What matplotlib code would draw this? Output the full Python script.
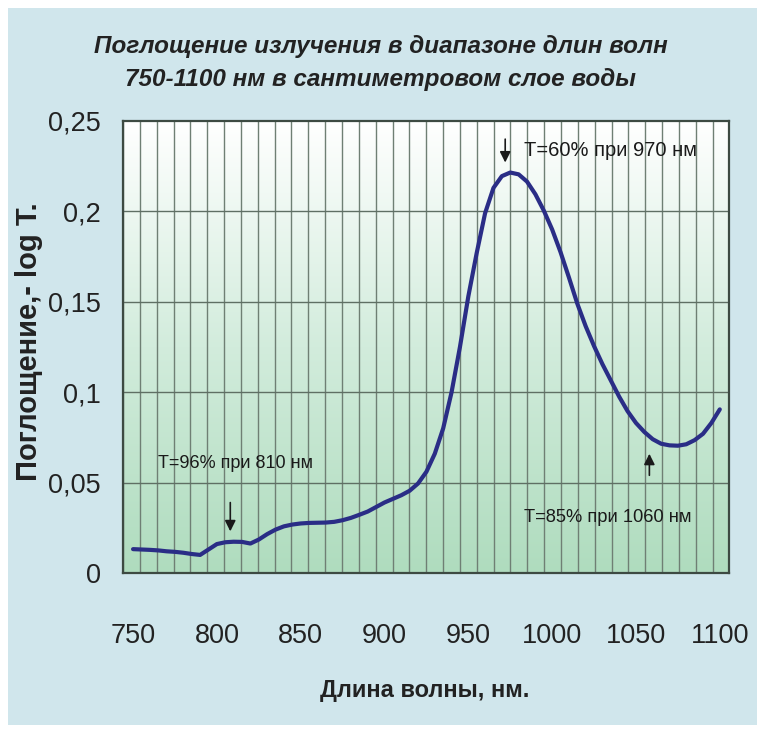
import numpy as np
import matplotlib
matplotlib.use("Agg")
import matplotlib.pyplot as plt
from matplotlib.patches import Rectangle
from matplotlib.colors import LinearSegmentedColormap

# ---- data ----
wavelength = [750, 755, 760, 765, 770, 775, 780, 785, 790, 795,
              800, 805, 810, 815, 820, 825, 830, 835, 840, 845,
              850, 855, 860, 865, 870, 875, 880, 885, 890, 895,
              900, 905, 910, 915, 920, 925, 930, 935, 940, 945,
              950, 955, 960, 965, 970, 975, 980, 985, 990, 995,
              1000, 1005, 1010, 1015, 1020, 1025, 1030, 1035, 1040, 1045,
              1050, 1055, 1060, 1065, 1070, 1075, 1080, 1085, 1090, 1095, 1100]
absorption = [0.0132, 0.0130, 0.0128, 0.0125, 0.0120, 0.0117, 0.0112, 0.0105, 0.0100, 0.0130,
              0.0160, 0.0170, 0.0173, 0.0172, 0.0163, 0.0185, 0.0215, 0.0240, 0.0258, 0.0268,
              0.0274, 0.0277, 0.0278, 0.0279, 0.0283, 0.0292, 0.0305, 0.0322, 0.0340, 0.0365,
              0.0390, 0.0410, 0.0430, 0.0455, 0.0495, 0.0560, 0.0660, 0.0800, 0.1000, 0.1250,
              0.1530, 0.1770, 0.1990, 0.2130, 0.2195, 0.2215, 0.2205, 0.2165, 0.2095, 0.2005,
              0.1900, 0.1775, 0.1635, 0.1490, 0.1365, 0.1255, 0.1155, 0.1065, 0.0975, 0.0895,
              0.0830, 0.0780, 0.0740, 0.0715, 0.0706, 0.0704, 0.0712, 0.0735, 0.0770, 0.0830, 0.0905]
x_ticks = [750, 800, 850, 900, 950, 1000, 1050, 1100]
x_tick_labels = ["750", "800", "850", "900", "950", "1000", "1050", "1100"]
y_ticks = [0, 0.05, 0.1, 0.15, 0.2, 0.25]
y_tick_labels = ["0", "0,05", "0,1", "0,15", "0,2", "0,25"]
title_text = "Поглощение излучения в диапазоне длин волн\n750-1100 нм в сантиметровом слое воды"
x_label = "Длина волны, нм."
y_label = "Поглощение,- log T."
ann_peak = ("T=60% при 970 нм", 970)
ann_810 = ("T=96% при 810 нм", 810)
ann_1060 = ("T=85% при 1060 нм", 1060)

plt.rcParams['font.family'] = ['Liberation Sans', 'DejaVu Sans']

W, H = 757, 731
fig = plt.figure(figsize=(W / 100, H / 100), dpi=100)
fig.patch.set_facecolor('white')
# light-blue card behind everything
card = Rectangle((8 / W, 6 / H), (W - 8) / W, (H - 14) / H,
                 transform=fig.transFigure, facecolor='#d0e6ec',
                 edgecolor='none', zorder=-10)
fig.patches.append(card)

ax = fig.add_axes([123 / W, (H - 573) / H, (729 - 123) / W, (573 - 121) / H])
ax.set_zorder(5)
ax.set_xlim(744, 1105.5)
ax.set_ylim(0, 0.25)

# gradient background white -> light green
cmap = LinearSegmentedColormap.from_list('g', ['#afdcbe', '#d2ecdc', '#ffffff'])
grad = np.linspace(0, 1, 256).reshape(-1, 1)
ax.imshow(grad, cmap=cmap, origin='lower', aspect='auto',
          extent=[744, 1105.5, 0, 0.25], zorder=0)

# grid
for gx in np.arange(744, 1106, 10.05):
    ax.axvline(gx, color='#6f7f74', lw=1.0, zorder=1)
for gy in y_ticks[1:-1]:
    ax.axhline(gy, color='#5f6f64', lw=1.0, zorder=1)

ax.plot(wavelength, absorption, color='#2a2d86', lw=3.0, zorder=3,
        solid_capstyle='round', solid_joinstyle='round')

for s in ax.spines.values():
    s.set_color('#3d4a42')
    s.set_linewidth(1.6)

ax.set_xticks(x_ticks)
ax.set_xticklabels(x_tick_labels)
ax.set_yticks(y_ticks)
ax.set_yticklabels(y_tick_labels)
ax.tick_params(axis='both', length=0, labelsize=19.5, colors='#222222')
ax.tick_params(axis='x', pad=36)
ax.tick_params(axis='y', pad=16)

fig.text(425 / W, 1 - 690 / H, x_label, ha='center', va='center',
         fontsize=17, fontweight='bold', color='#222222')
fig.text(29 / W, 1 - 342 / H, y_label, ha='center', va='center', rotation=90,
         fontsize=21, fontweight='bold', color='#222222')
fig.text(381 / W, 1 - 63 / H, title_text, ha='center', va='center',
         fontsize=17.5, fontweight='bold', fontstyle='italic', color='#222222',
         linespacing=1.55)

# annotations
ax.text(ann_peak[1] + 13, 0.2336, ann_peak[0], ha='left', va='center',
        fontsize=14.5, color='#1a1a1a')
ax.annotate('', xy=(ann_peak[1] + 2, 0.2255), xytext=(ann_peak[1] + 2, 0.2415),
            arrowprops=dict(arrowstyle='-|>', color='#1a1a1a', lw=1.2,
                            mutation_scale=16))
ax.text(ann_810[1] - 45, 0.0605, ann_810[0], ha='left', va='center',
        fontsize=13, color='#1a1a1a')
ax.annotate('', xy=(ann_810[1] - 2, 0.0215), xytext=(ann_810[1] - 2, 0.0405),
            arrowprops=dict(arrowstyle='-|>', color='#1a1a1a', lw=1.2,
                            mutation_scale=16))
ax.text(ann_1060[1] - 77, 0.0305, ann_1060[0], ha='left', va='center',
        fontsize=13.2, color='#1a1a1a')
ax.annotate('', xy=(ann_1060[1] - 2, 0.0675), xytext=(ann_1060[1] - 2, 0.0525),
            arrowprops=dict(arrowstyle='-|>', color='#1a1a1a', lw=1.2,
                            mutation_scale=16))

fig.savefig('out.png', dpi=100)
